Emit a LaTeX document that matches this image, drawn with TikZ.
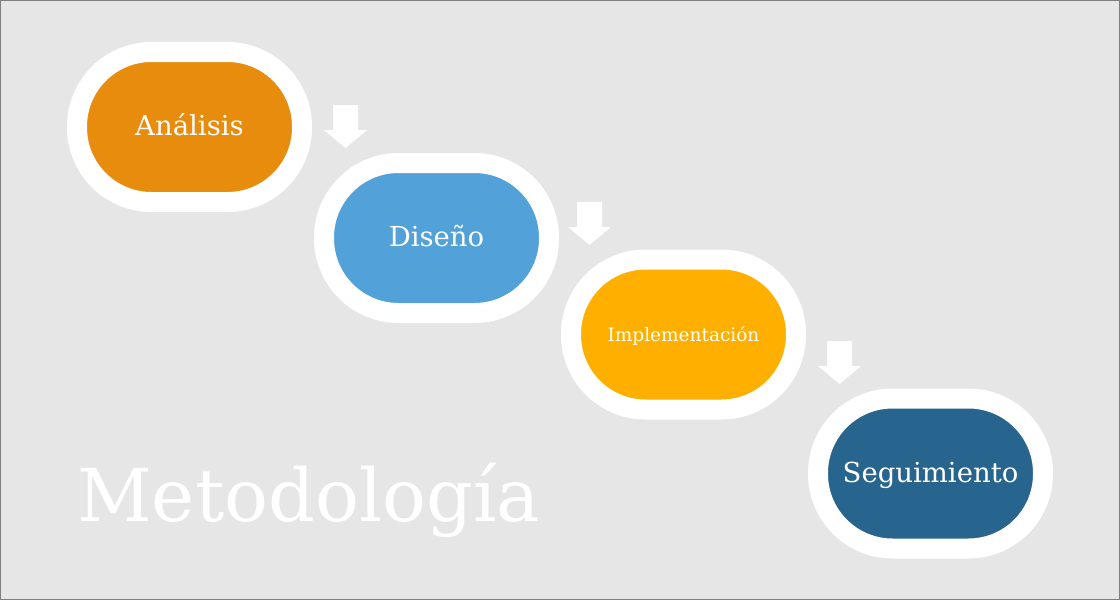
\documentclass[tikz,border=0pt]{standalone}
\usepackage{fontspec}
\setmainfont{DejaVu Serif}
\definecolor{bgc}{HTML}{E6E6E6}
\definecolor{framec}{HTML}{7F7F7F}
\definecolor{c1}{HTML}{E88C0E}
\definecolor{c2}{HTML}{52A2D9}
\definecolor{c3}{HTML}{FFAF00}
\definecolor{c4}{HTML}{27648E}
\begin{document}
\begin{tikzpicture}[x=1pt,y=-1pt,
  stage/.style={draw=white, line width=20pt, rounded corners=74.5pt,
    minimum width=225pt, minimum height=150pt, inner sep=0pt,
    text=white, text height=17pt, text depth=0pt,
    font=\fontsize{27.5}{30}\selectfont},
  darrow/.pic={\fill[white] (-12.5,0) -- (12.5,0) -- (12.5,25) -- (21.5,25)
    -- (0,43) -- (-21.5,25) -- (-12.5,25) -- cycle;},
  titletext/.style={text=white, inner sep=0pt, anchor=base west,
    font=\fontsize{73}{80}\selectfont}
  ]
\useasboundingbox (0,0) rectangle (1120,600);
\fill[bgc] (0,0) rectangle (1120,600);
\draw[framec, line width=1pt] (0.5,0.5) rectangle (1119.5,599.5);

\node[stage, fill=c1] (analisis) at (189.5,127) {Análisis};
\node[stage, fill=c2] (diseno) at (436.5,238) {Diseño};
\node[stage, fill=c3, text height=13pt, font=\fontsize{18.5}{20}\selectfont] (impl) at (683.5,334.5) {Implementación};
\node[stage, fill=c4] (seguim) at (930.5,473.5) {Seguimiento};

\pic at (345.5,105) {darrow};
\pic at (589.5,202) {darrow};
\pic at (839.5,341) {darrow};

\node[titletext] (titulo) at (77,521) {Metodología};
\end{tikzpicture}
\end{document}
